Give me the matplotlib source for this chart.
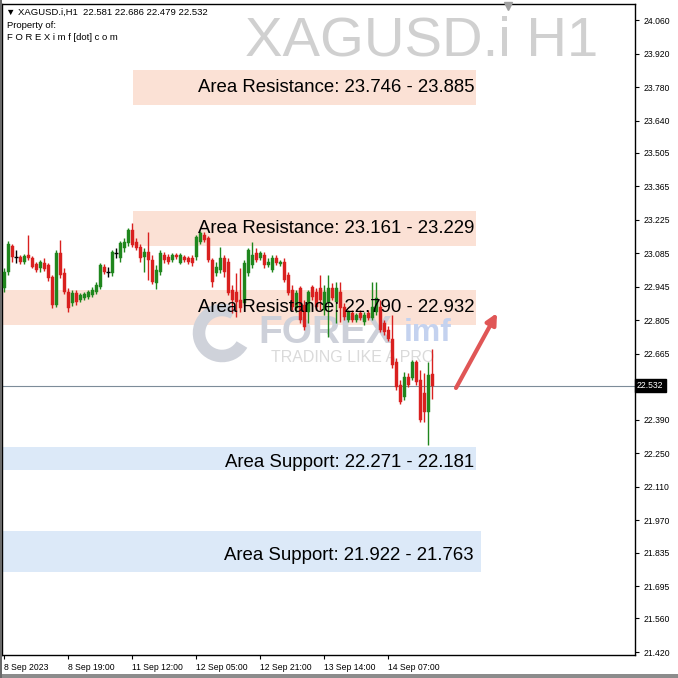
import matplotlib
matplotlib.use("Agg")
import matplotlib.pyplot as plt
import matplotlib.transforms as mtransforms
import numpy as np
from matplotlib.patches import Rectangle, Arc

# ---- data (XAGUSD.i, H1) ----
opens = [22.941, 23.007, 23.116, 23.070, 23.070, 23.049, 23.078, 23.066, 23.041, 23.024,
         23.045, 23.037, 22.987, 22.870, 23.087, 23.003, 22.924, 22.878, 22.920, 22.890,
         22.899, 22.903, 22.911, 22.924, 22.945, 23.028, 23.007, 23.003, 23.087, 23.066,
         23.108, 23.128, 23.183, 23.133, 23.112, 23.070, 23.091, 23.057, 22.962, 23.007,
         23.078, 23.070, 23.057, 23.078, 23.045, 23.070, 23.066, 23.066, 23.070, 23.133,
         23.162, 23.149, 23.057, 23.003, 23.016, 23.066, 23.049, 22.932, 22.924, 22.890,
         22.878, 23.003, 23.037, 23.087, 23.066, 23.078, 23.037, 23.016, 23.066, 23.041,
         23.049, 22.995, 22.932, 22.857, 22.941, 22.870, 22.840, 22.945, 22.924, 22.941,
         22.849, 22.882, 22.941, 22.882, 22.924, 22.861, 22.807, 22.836, 22.807, 22.836,
         22.799, 22.836, 22.815, 22.840, 22.861, 22.794, 22.765, 22.727, 22.631, 22.535,
         22.485, 22.569, 22.565, 22.631, 22.556, 22.502, 22.423, 22.581]
highs = [23.024, 23.137, 23.124, 23.099, 23.078, 23.082, 23.162, 23.074, 23.049, 23.057,
         23.066, 23.045, 22.995, 23.099, 23.141, 23.024, 22.941, 22.932, 22.932, 22.920,
         22.924, 22.932, 22.945, 22.966, 23.045, 23.041, 23.028, 23.099, 23.108, 23.137,
         23.149, 23.191, 23.212, 23.149, 23.124, 23.108, 23.174, 23.078, 23.037, 23.099,
         23.091, 23.082, 23.087, 23.087, 23.087, 23.078, 23.074, 23.078, 23.162, 23.179,
         23.174, 23.158, 23.066, 23.049, 23.112, 23.078, 23.066, 22.953, 23.003, 23.024,
         23.057, 23.108, 23.133, 23.108, 23.095, 23.091, 23.066, 23.078, 23.078, 23.057,
         23.066, 23.007, 22.953, 22.932, 22.949, 22.890, 22.932, 22.953, 22.941, 22.995,
         22.953, 22.995, 22.962, 22.966, 22.966, 22.878, 22.849, 22.849, 22.836, 22.849,
         22.840, 22.849, 22.966, 22.966, 22.890, 22.807, 22.782, 22.828, 22.648, 22.556,
         22.590, 22.585, 22.640, 22.640, 22.598, 22.585, 22.631, 22.686]
lows = [22.924, 22.995, 23.049, 23.045, 23.041, 23.041, 23.057, 23.024, 23.007, 23.007,
        23.012, 22.970, 22.857, 22.861, 22.982, 22.916, 22.840, 22.865, 22.870, 22.882,
        22.890, 22.895, 22.903, 22.916, 22.936, 22.999, 22.987, 22.991, 23.066, 23.049,
        23.091, 23.116, 23.112, 23.099, 23.049, 23.007, 22.974, 22.957, 22.936, 22.995,
        23.045, 23.041, 23.049, 23.062, 23.041, 23.049, 23.041, 23.032, 23.057, 23.124,
        23.133, 23.049, 22.945, 22.991, 23.003, 22.987, 22.911, 22.836, 22.819, 22.840,
        22.865, 22.991, 23.024, 23.049, 23.057, 23.024, 23.028, 23.007, 23.037, 23.032,
        22.966, 22.911, 22.849, 22.840, 22.794, 22.765, 22.794, 22.890, 22.849, 22.849,
        22.828, 22.736, 22.890, 22.794, 22.799, 22.807, 22.799, 22.799, 22.799, 22.807,
        22.786, 22.807, 22.807, 22.828, 22.757, 22.744, 22.719, 22.606, 22.514, 22.456,
        22.473, 22.527, 22.556, 22.535, 22.381, 22.381, 22.285, 22.479]
closes = [23.007, 23.124, 23.070, 23.070, 23.049, 23.074, 23.066, 23.028, 23.016, 23.049,
          23.020, 22.982, 22.870, 23.087, 22.995, 22.924, 22.857, 22.920, 22.882, 22.911,
          22.916, 22.924, 22.932, 22.953, 23.037, 23.007, 23.007, 23.091, 23.087, 23.128,
          23.133, 23.183, 23.120, 23.108, 23.066, 23.091, 23.057, 22.966, 23.016, 23.087,
          23.057, 23.049, 23.078, 23.070, 23.078, 23.057, 23.049, 23.045, 23.154, 23.170,
          23.141, 23.057, 22.966, 23.028, 23.066, 23.007, 22.920, 22.890, 22.882, 22.857,
          23.045, 23.099, 23.078, 23.057, 23.087, 23.037, 23.049, 23.066, 23.045, 23.049,
          22.974, 22.920, 22.861, 22.920, 22.807, 22.778, 22.924, 22.903, 22.861, 22.890,
          22.924, 22.941, 22.899, 22.941, 22.857, 22.819, 22.840, 22.807, 22.828, 22.815,
          22.828, 22.815, 22.861, 22.899, 22.765, 22.757, 22.727, 22.619, 22.527, 22.464,
          22.569, 22.535, 22.631, 22.548, 22.389, 22.423, 22.577, 22.532]

date_bars = [0, 16, 32, 48, 64, 80, 96]
date_labels = ["8 Sep 2023", "8 Sep 19:00", "11 Sep 12:00", "12 Sep 05:00",
               "12 Sep 21:00", "13 Sep 14:00", "14 Sep 07:00"]

price_ticks = [24.060, 23.920, 23.780, 23.640, 23.505, 23.365, 23.225, 23.085, 22.945,
               22.805, 22.665, 22.390, 22.250, 22.110, 21.970, 21.835, 21.695, 21.560, 21.420]
last_price = 22.532

zone_low = [23.705, 23.116, 22.786, 22.180, 21.754]
zone_high = [23.851, 23.262, 22.932, 22.276, 21.926]
zone_from = [32.25, 32.25, -0.5, -0.5, -0.5]
zone_to = [118.0, 118.0, 118.0, 118.0, 119.25]
zone_kind = ["R", "R", "R", "S", "S"]
zone_text = ["Area Resistance: 23.746 - 23.885", "Area Resistance: 23.161 - 23.229",
             "Area Resistance: 22.790 - 22.932", "Area Support: 22.271 - 22.181",
             "Area Support: 21.922 - 21.763"]

GREEN = "#1f861d"
RED = "#d9201f"

fig = plt.figure(figsize=(6.78, 6.78), dpi=100)
W = 678.0
ax = fig.add_axes([2 / W, 23 / W, 633 / W, 651 / W])
ax.set_xlim(-0.5, 157.75)
ax.set_ylim(21.4075, 24.127)

# big symbol watermark
ax.text(598 / W, 1 - 41 / W, "XAGUSD.i H1", transform=fig.transFigure, ha="right",
        va="center", fontsize=40.5, family="Liberation Sans", color="#d0d0d0", zorder=0.5)

# zones
for lo, hi, b0, b1, kind in zip(zone_low, zone_high, zone_from, zone_to, zone_kind):
    col = "#fbe1d5" if kind == "R" else "#dce9f8"
    ax.add_patch(Rectangle((b0, lo), b1 - b0, hi - lo, facecolor=col, edgecolor="none", zorder=1))

# site logo watermark
ax.add_patch(Arc((222 / W, 1 - 333 / W), 46 / W, 46 / W, theta1=60, theta2=330,
                 transform=fig.transFigure, color="#cfd2da", lw=9, zorder=1.5))
ax.text(258 / W, 1 - 333 / W, "FOREX", transform=fig.transFigure, ha="left", va="center",
        fontsize=28, fontweight="bold", family="Liberation Sans", color="#cdd0d9", zorder=1.5)
ax.text(404 / W, 1 - 333 / W, "imf", transform=fig.transFigure, ha="left", va="center",
        fontsize=23, fontweight="bold", family="Liberation Sans", color="#c4d2ef", zorder=1.5)
ax.text(353 / W, 1 - 358 / W, "TRADING LIKE A PRO", transform=fig.transFigure, ha="center",
        va="center", fontsize=11.5, family="Liberation Sans", color="#dadada", zorder=1.5)

# current price line
ax.axhline(last_price, color="#7d8c99", lw=0.8, zorder=2)

# candles
o = np.array(opens)
h = np.array(highs)
l = np.array(lows)
c = np.array(closes)
idx = np.arange(len(o))
cols = np.where(c > o, GREEN, np.where(c < o, RED, "black"))
ax.vlines(idx, l, h, colors=cols, lw=1, zorder=3)
body = c != o
ax.bar(idx[body], (c - o)[body], bottom=o[body], width=0.75, color=cols[body],
       edgecolor=cols[body], linewidth=0.3, zorder=4)
ax.hlines(c[~body], idx[~body] - 0.4, idx[~body] + 0.4, colors="black", lw=1, zorder=4)

# zone labels (support labels sit a little below the box centre)
for lo, hi, kind, label in zip(zone_low, zone_high, zone_kind, zone_text):
    dy = -3 if kind == "S" else 0
    off = mtransforms.offset_copy(ax.transData, fig=fig, x=0, y=dy, units="points")
    ax.text(117.5, (lo + hi) / 2, label, ha="right", va="center", fontsize=13.4,
            family="Liberation Sans", color="black", zorder=6, transform=off)

# arrow
ax.annotate("", xy=(123.25, 22.836), xytext=(113, 22.523),
            arrowprops=dict(arrowstyle="-|>", color="#e05656", lw=3, mutation_scale=16,
                            shrinkA=0, shrinkB=0), zorder=7)

# axes
ax.yaxis.tick_right()
ax.set_yticks(price_ticks)
ax.set_yticklabels(["%.3f" % p for p in price_ticks], family="Liberation Sans")
ax.tick_params(axis="y", length=3, labelsize=6.2, pad=3, width=0.8)
ax.set_xticks(date_bars)
ax.set_xticklabels(date_labels, ha="left", family="Liberation Sans")
ax.tick_params(axis="x", length=3, labelsize=6.2, pad=3, width=0.8)
for s in ax.spines.values():
    s.set_color("black")
    s.set_linewidth(1)

ax.text(1.003, last_price, "%.3f" % last_price, transform=ax.get_yaxis_transform(),
        ha="left", va="center", fontsize=6.2, family="Liberation Sans", color="white",
        bbox=dict(boxstyle="square,pad=0.25", fc="black", ec="black"), zorder=8, clip_on=False)

# chart shift marker
ax.plot([126], [24.12], marker="v", color="#a0a0a0", ms=6, clip_on=False, zorder=8)

# header
hdr = ["Liberation Sans", "DejaVu Sans"]
fig.text(6 / W, 1 - 12 / W, "\u25bc XAGUSD.i,H1  22.581 22.686 22.479 22.532", ha="left",
         va="center", fontsize=6.8, family=hdr)
fig.text(7 / W, 1 - 25 / W, "Property of:", ha="left", va="center", fontsize=6.8, family=hdr)
fig.text(7 / W, 1 - 37 / W, "F O R E X i m f [dot] c o m", ha="left", va="center",
         fontsize=6.8, family=hdr)

# window frame
fig.patches.append(Rectangle((0, 0), 1, 4 / W, transform=fig.transFigure,
                             facecolor="#8c8c8c", edgecolor="none"))
fig.patches.append(Rectangle((0, 0), 1.5 / W, 1, transform=fig.transFigure,
                             facecolor="#6a6a6a", edgecolor="none"))

fig.savefig("out.png", dpi=100)
